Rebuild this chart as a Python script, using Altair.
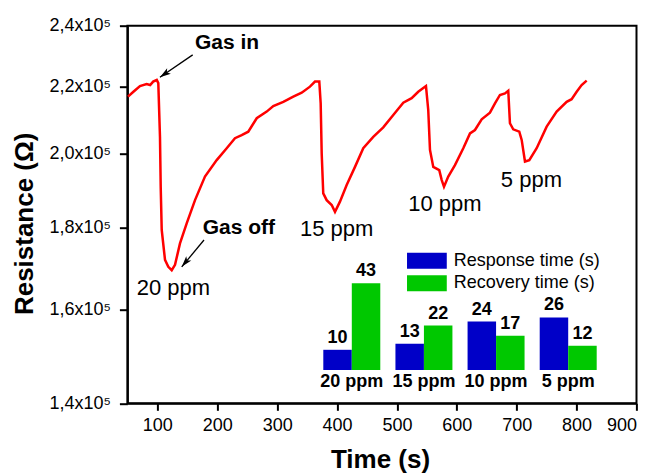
import altair as alt
import pandas as pd

# ---------------- data ----------------
times = [51, 60, 71, 82, 88, 93, 99, 101.6, 104.4, 105.6,
         107.3, 112.8, 118.3, 124, 129.5, 137.8, 149, 162.9, 179.5, 199.1,
         215.8, 229.6, 240.8, 251.8, 265.9, 282.6, 293.6, 310.3, 327, 341,
         354.8, 363.2, 370.4, 372.7, 374.4, 377, 382.7, 391.1, 396.6, 404.9,
         416.1, 430, 443.8, 460.5, 477.2, 493.9, 510.6, 524.6, 535.6, 548.5,
         552.3, 555.2, 560.7, 570.7, 574.7, 578.6, 585.7, 596.9, 610.8, 622,
         630.3, 641.5, 655.3, 663.7, 672, 680.4, 685.9, 688.7, 694.2, 704.3,
         708.3, 713.8, 721, 733.3, 750, 766.7, 783.4, 791.7, 800.1, 808.4,
         816.8]
resist = [216900, 218400, 220200, 220800, 220500, 221600, 222100, 221100, 204800, 190700,
          179300, 171800, 170100, 169300, 170600, 175900, 181000, 187100, 193500, 198100,
          201500, 204400, 205300, 206300, 210300, 212300, 214000, 215300, 216900, 218100,
          220000, 221600, 221600, 214800, 200000, 188900, 187100, 185800, 184000, 186700,
          191200, 196200, 201500, 204800, 207600, 211300, 215000, 216400, 218400, 220200,
          212800, 201000, 196200, 195300, 192600, 190700, 193500, 196700, 201500, 205800,
          206800, 210000, 212000, 214800, 217400, 217900, 218700, 208800, 207000, 206300,
          203900, 197700, 198100, 201500, 207800, 212300, 215300, 216100, 218400, 220500,
          221900]

x_ticks = [100, 200, 300, 400, 500, 600, 700, 800, 900]
y_ticks = [140000, 160000, 180000, 200000, 220000, 240000]

bold_labels = ["Gas in", "Gas off"]
bold_t = [162.9, 175.7]
bold_r = [234150, 179900]

ppm_labels = ["20 ppm", "15 ppm", "10 ppm", "5 ppm"]
ppm_t = [65.5, 338.1, 519, 673.5]
ppm_r = [165000, 179600, 186000, 192500]

arrow_t1 = [159, 177.9]
arrow_r1 = [230200, 176750]
arrow_t2 = [104.3, 140.7]
arrow_r2 = [223000, 170100]
arrow_angle = [235.7, 219.9]

conc = ["20 ppm", "15 ppm", "10 ppm", "5 ppm"]
response = [10, 13, 24, 26]
recovery = [43, 22, 17, 12]
series_names = ["Response time (s)", "Recovery time (s)"]

# ---------------- tables ----------------
line_df = pd.DataFrame({"t": times, "R": resist})
bold_df = pd.DataFrame({"t": bold_t, "R": bold_r, "txt": bold_labels})
ppm_df = pd.DataFrame({"t": ppm_t, "R": ppm_r, "txt": ppm_labels})
arrow_df = pd.DataFrame({"t": arrow_t1, "R": arrow_r1, "t2": arrow_t2,
                         "R2": arrow_r2, "ang": arrow_angle})
inset_df = pd.DataFrame({
    "conc": conc * 2,
    "series": [series_names[0]] * 4 + [series_names[1]] * 4,
    "val": response + recovery,
})
cat_df = pd.DataFrame({"conc": conc})

# ---------------- scales / axes ----------------
xs = alt.Scale(domain=[50, 900], nice=False, zero=False)
ys = alt.Scale(type="log", domain=[140000, 240000], nice=False)

x_axis = alt.Axis(values=x_ticks, title="Time (s)", grid=False,
                  labelFontSize=18, labelColor="black", labelPadding=6,
                  tickSize=7, tickWidth=2, tickColor="black",
                  domainWidth=2, domainColor="black",
                  titleFontSize=26, titleFontWeight="bold", titleColor="black",
                  titleX=252.6, titleY=64, titleBaseline="alphabetic", titleAlign="center")
y_axis = alt.Axis(values=y_ticks, title="Resistance (Ω)", grid=False,
                  labelExpr="replace(format(datum.value/100000, '.1f'), '.', ',') + 'x10⁵'",
                  labelFontSize=18, labelColor="black", labelPadding=9,
                  tickSize=8, tickWidth=2, tickColor="black",
                  domainWidth=2, domainColor="black",
                  titleFontSize=26, titleFontWeight="bold", titleColor="black",
                  titleAngle=270, titleX=-103, titleY=197.6,
                  titleBaseline="middle", titleAlign="center")

X = lambda f: alt.X(f, type="quantitative", scale=xs, axis=x_axis)
Y = lambda f: alt.Y(f, type="quantitative", scale=ys, axis=y_axis)

line = alt.Chart(line_df).mark_line(color="#FF0000", strokeWidth=2.5).encode(
    x=X("t"), y=Y("R"))

bold_txt = alt.Chart(bold_df).mark_text(
    fontSize=21, fontWeight="bold", align="left", baseline="middle", color="black"
).encode(x=X("t"), y=Y("R"), text="txt:N")

ppm_txt = alt.Chart(ppm_df).mark_text(
    fontSize=22, align="left", baseline="middle", color="black"
).encode(x=X("t"), y=Y("R"), text="txt:N")

shafts = alt.Chart(arrow_df).mark_rule(color="black", strokeWidth=1.3).encode(
    x=X("t"), y=Y("R"), x2="t2", y2="R2")

heads = alt.Chart(arrow_df).mark_point(
    shape="M0,0 L0.45,1.5 L0,1.15 L-0.45,1.5 Z", size=215,
    filled=True, color="black", opacity=1
).encode(x=X("t2"), y=Y("R2"), angle=alt.Angle("ang:Q", scale=None))

main = alt.layer(line, shafts, heads, bold_txt, ppm_txt)

# ---------------- inset bar chart ----------------
bx = alt.Scale(domain=conc, range=[195.9, 469.3], paddingInner=0.21, paddingOuter=0)
by = alt.Scale(domain=[0, 50], range=[344.3, 243.3])
bo = alt.Scale(domain=series_names, paddingInner=0, paddingOuter=0)

bars = alt.Chart(inset_df).mark_bar().encode(
    x=alt.X("conc:N", scale=bx, axis=None, sort=conc),
    xOffset=alt.XOffset("series:N", scale=bo, sort=series_names),
    y=alt.Y("val:Q", scale=by, axis=None),
    color=alt.Color("series:N",
                    scale=alt.Scale(domain=series_names, range=["#0000C8", "#00C800"]),
                    legend=alt.Legend(orient="none", legendX=290.5, legendY=226,
                                      title=None, symbolType="M-2.5,-1H2.5V1H-2.5Z",
                                      symbolSize=253, symbolStrokeWidth=0,
                                      symbolOpacity=1, labelFontSize=18,
                                      labelColor="black", labelOffset=17.9,
                                      rowPadding=4.6, padding=0)),
)

vals = alt.Chart(inset_df).mark_text(
    dy=-12, fontSize=18, fontWeight="bold", baseline="middle", color="black"
).encode(
    x=alt.X("conc:N", scale=bx, axis=None, sort=conc),
    xOffset=alt.XOffset("series:N", scale=bo, sort=series_names),
    y=alt.Y("val:Q", scale=by, axis=None),
    text="val:Q",
)

cats = alt.Chart(cat_df).mark_text(
    dy=12, fontSize=18, fontWeight="bold", baseline="middle", color="black"
).encode(
    x=alt.X("conc:N", scale=bx, axis=None, sort=conc),
    y=alt.datum(0),
    text="conc:N",
)

inset = alt.layer(bars, vals, cats)

chart = alt.layer(main, inset).resolve_scale(
    x="independent", y="independent"
).properties(
    width=509.1, height=377.6,
    autosize=alt.AutoSizeParams(type="none"),
    padding={"left": 119.4, "top": 17.7, "right": 6, "bottom": 70},
    background="white",
).configure(font="Liberation Sans").configure_view(stroke="black", strokeWidth=2)

chart.save("out.html", embed_options={"renderer": "svg", "actions": False})
